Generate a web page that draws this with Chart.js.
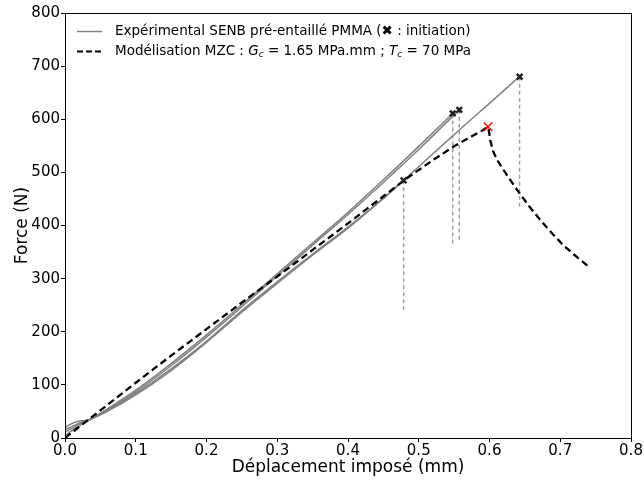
<!DOCTYPE html>
<html>
<head>
<meta charset="utf-8">
<script src="https://cdn.jsdelivr.net/npm/chart.js@4/dist/chart.umd.min.js"></script>
<style>
  html,body{margin:0;padding:0;background:#fff;}
  #wrap{width:644px;height:482px;}
</style>
</head>
<body>
<div id="wrap"><canvas id="forceChart" width="644" height="482"></canvas></div>
<script>
// experimental curves (SENB PMMA), displacement in mm / force in N
const exp1_x=[0,0.008,0.018,0.033,0.06,0.1,0.15,0.2,0.25,0.3,0.35,0.4,0.45,0.4786];
const exp1_f=[20,26,31,34,52,84,130,182,240,294,346,397,451,485];
const exp2_x=[0,0.01,0.02,0.033,0.06,0.1,0.15,0.2,0.25,0.3,0.35,0.4,0.45,0.4786,0.52,0.56,0.6,0.642];
const exp2_f=[5,14,23,33,50,81,127,180,237,291,344,395,451,485,535,583,630,680];
const exp3_x=[0,0.01,0.02,0.033,0.06,0.1,0.15,0.2,0.25,0.3,0.35,0.4,0.45,0.5,0.548];
const exp3_f=[11,18,26,34,55,90,140,194,251,309,367,425,486,549,611];
const exp4_x=[0,0.01,0.02,0.033,0.06,0.1,0.15,0.2,0.25,0.3,0.35,0.4,0.45,0.5,0.5573];
const exp4_f=[15,22,28,34,53,87,136,190,247,305,363,421,481,543,617.7];

// crack initiation points and force after the drop
const init_x=[0.4786,0.548,0.5573,0.6425];
const init_f=[485,611,617.7,680];
const drop_f=[238,363.5,369.7,432.6];

// MZC model
const mzc_x=[0,0.05,0.1,0.15,0.2,0.25,0.3,0.35,0.4,0.45,0.48,0.52,0.55,0.575,0.59,0.598,0.5995,0.601,0.605,0.611,0.625,0.639,0.655,0.672,0.69,0.705,0.725,0.7426];
const mzc_f=[0,52,104,155,205,255,304,354,404,455,486,523,549,568,579,586,575,561,540,523,494,467,438,410,383,362,339,320];
const peak_x=[0.598];
const peak_f=[586];

const x_ticks=[0,0.1,0.2,0.3,0.4,0.5,0.6,0.7,0.8];
const y_ticks=[0,100,200,300,400,500,600,700,800];

function pts(xs,fs){
    var out=[];
    for(var i=0;i<xs.length;i++){
        out.push({x:xs[i],y:fs[i]});
    }
    return out;
}

var datasets=[];
var expCurves=[[exp1_x,exp1_f],[exp2_x,exp2_f],[exp3_x,exp3_f],[exp4_x,exp4_f]];
for(var k=0;k<expCurves.length;k++){
    datasets.push({
        data:pts(expCurves[k][0],expCurves[k][1]),
        showLine:true,
        borderColor:"#808080",
        borderWidth:1.5,
        pointRadius:0,
        cubicInterpolationMode:"monotone",
        order:5
    });
}
for(var k=0;k<init_x.length;k++){
    datasets.push({
        data:[{x:init_x[k],y:init_f[k]},{x:init_x[k],y:drop_f[k]}],
        showLine:true,
        borderColor:"#a0a0a0",
        borderWidth:1.5,
        borderDash:[4,3],
        pointRadius:0,
        order:6
    });
}
datasets.push({
    data:pts(mzc_x,mzc_f),
    showLine:true,
    borderColor:"#000",
    borderWidth:2.3,
    borderDash:[7,4],
    pointRadius:0,
    order:3
});
datasets.push({
    data:pts(init_x,init_f),
    showLine:false,
    pointStyle:"crossRot",
    pointRadius:4,
    borderColor:"#222",
    borderWidth:2.5,
    order:1
});
datasets.push({
    data:pts(peak_x,peak_f),
    showLine:false,
    pointStyle:"crossRot",
    pointRadius:6,
    borderColor:"#ff0000",
    borderWidth:1.5,
    order:0
});

// box around plot area
const framePlugin={
    id:"frame",
    afterDatasetsDraw(chart){
        const a=chart.chartArea, c=chart.ctx;
        c.save();
        c.strokeStyle="#000";
        c.lineWidth=1;
        c.strokeRect(Math.round(a.left)+0.5,Math.round(a.top)+0.5,Math.round(a.right-a.left),Math.round(a.bottom-a.top));
        c.restore();
    }
};

// legend with sub-scripts
const legendPlugin={
    id:"mzcLegend",
    afterDraw(chart){
        const c=chart.ctx;
        const font="DejaVu Sans";
        const fs=13.5;
        c.save();
        c.textBaseline="middle";
        c.fillStyle="#000";
        // row 1
        var y1=31.5;
        c.strokeStyle="#808080";c.lineWidth=1.5;
        c.beginPath();c.moveTo(77,y1);c.lineTo(102,y1);c.stroke();
        c.font=fs+"px '"+font+"'";
        var x=115;
        var t="Expérimental SENB pré-entaillé PMMA (";
        c.fillText(t,x,y1);x+=c.measureText(t).width;
        c.font="bold "+fs+"px '"+font+"'";
        c.fillText("✖",x,y1);x+=c.measureText("✖").width;
        c.font=fs+"px '"+font+"'";
        c.fillText(" : initiation)",x,y1);
        // row 2
        var y2=51.5;
        c.strokeStyle="#000";c.lineWidth=2.2;c.setLineDash([6,3]);
        c.beginPath();c.moveTo(77,y2);c.lineTo(102,y2);c.stroke();
        c.setLineDash([]);
        x=115;
        var parts=[
            ["Modélisation MZC : ",""],["G","i"],["c","s"],[" = 1.65 MPa.mm ; ",""],["T","i"],["c","s"],[" = 70 MPa",""]
        ];
        for(var p=0;p<parts.length;p++){
            var s=parts[p][0],st=parts[p][1];
            if(st==="i"){c.font="italic "+fs+"px '"+font+"'";c.fillText(s,x,y2);}
            else if(st==="s"){c.font="italic "+Math.round(fs*0.7)+"px '"+font+"'";c.fillText(s,x,y2+3);}
            else{c.font=fs+"px '"+font+"'";c.fillText(s,x,y2);}
            x+=c.measureText(s).width;
        }
        c.restore();
    }
};

const ctx=document.getElementById("forceChart").getContext("2d");
const forceChart=new Chart(ctx,{
    type:"scatter",
    data:{datasets:datasets},
    options:{
        responsive:false,
        animation:false,
        layout:{padding:{top:13,right:13,left:0,bottom:0}},
        plugins:{legend:{display:false},tooltip:{enabled:false}},
        scales:{
            x:{
                type:"linear",min:0,max:0.8,
                afterBuildTicks(s){s.ticks=x_ticks.map(v=>({value:v}));},
                afterFit(s){s.height=44;},
                border:{display:false},
                grid:{drawOnChartArea:false,drawTicks:true,tickLength:4,tickColor:"#000",tickWidth:1},
                ticks:{color:"#000",padding:0,autoSkip:false,maxRotation:0,font:{family:"DejaVu Sans",size:15},
                    callback:v=>v.toFixed(1)},
                title:{display:true,text:"Déplacement imposé (mm)",color:"#000",font:{family:"DejaVu Sans",size:17},padding:{top:0,bottom:4}}
            },
            y:{
                type:"linear",min:0,max:800,
                afterBuildTicks(s){s.ticks=y_ticks.map(v=>({value:v}));},
                afterFit(s){s.width=65;},
                border:{display:false},
                grid:{drawOnChartArea:false,drawTicks:true,tickLength:4,tickColor:"#000",tickWidth:1},
                ticks:{color:"#000",padding:1,autoSkip:false,font:{family:"DejaVu Sans",size:15}},
                title:{display:true,text:"Force (N)",color:"#000",font:{family:"DejaVu Sans",size:17},padding:{top:12,bottom:0}}
            }
        }
    },
    plugins:[framePlugin,legendPlugin]
});
</script>
</body>
</html>
